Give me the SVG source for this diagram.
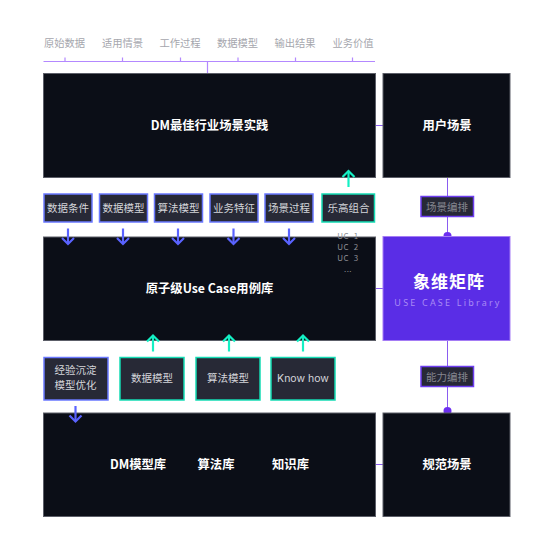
<svg xmlns="http://www.w3.org/2000/svg" width="554" height="554" viewBox="0 0 554 554">
<style>
text{font-family:"Noto Sans CJK SC","Noto Sans",sans-serif;text-anchor:middle}
.dark{fill:#0b0e17;stroke:#5c5e68;stroke-width:1}
.title{fill:#fff;font-size:12.300px;font-weight:700}
.chip{fill:#272936;stroke-width:1.500}
.blue{stroke:#6a78ff}
.green{stroke:#14dcb4}
.chipt{fill:#d4d5da;font-size:10.500px}
.head{fill:#a5a6ad;font-size:10.300px}
.ln{stroke:#b388ff;stroke-width:1.200;fill:none}
.ln2{stroke:#8a5cf0;stroke-width:1;fill:none}
.ab{stroke:#5a63ff;stroke-width:2.200;fill:none}
.ag{stroke:#14f0c4;stroke-width:2.200;fill:none}
.tag{fill:#272936;stroke:#6d3df0;stroke-width:1.500}
.tagt{fill:#85868f;font-size:10.500px}
.uc{fill:#8e8f96;font-size:8px;letter-spacing:.5px;white-space:pre}
</style>
<defs>
<g id="down"><path class="ab" d="M0 -8V7"/><path class="ab" d="M-6 1.500L0 7.500L6 1.500"/></g>
<g id="up"><path class="ag" d="M0 8.500V-7"/><path class="ag" d="M-6 -1.500L0 -7.500L6 -1.500"/></g>
</defs>
<g id="connectors">
<path class="ln" d="M43.500 61.500H375M65 57.500V61.500M122.500 57.500V61.500M180.500 57.500V61.500M238 57.500V61.500M295.500 57.500V61.500M352.500 57.500V61.500M207.500 61.500V73"/>
<path class="ln2" d="M447.500 177V237M447.500 340V413M375 125.500H383M375 288.500H383M375 464.500H383"/>
<circle cx="447.500" cy="236" r="4" fill="#6d2ff0"/>
<circle cx="447.500" cy="411" r="4" fill="#6d2ff0"/>
</g>
<g id="head-labels">
<text class="head" x="64.500" y="47">原始数据</text>
<text class="head" x="122.500" y="47">适用情景</text>
<text class="head" x="180" y="47">工作过程</text>
<text class="head" x="237.500" y="47">数据模型</text>
<text class="head" x="295" y="47">输出结果</text>
<text class="head" x="353" y="47">业务价值</text>
</g>
<g id="best-practice"><rect class="dark" x="43.500" y="73.500" width="332" height="104"/><text class="title" x="209.500" y="130">DM最佳行业场景实践</text></g>
<g id="user-scene"><rect class="dark" x="383" y="73.500" width="127" height="104"/><text class="title" x="447" y="130">用户场景</text></g>
<g id="use-case-lib"><rect class="dark" x="43.500" y="237" width="332" height="103.500"/><text class="title" x="209.500" y="293">原子级Use Case用例库</text></g>
<g id="matrix"><rect x="383" y="236.500" width="127" height="104" fill="#5a2de6" stroke="#a57cf5" stroke-width="1"/>
<text x="449" y="288" fill="#fff" font-size="17" font-weight="700" letter-spacing="1">象维矩阵</text>
<text x="448" y="306" fill="#a98bf5" font-size="9" letter-spacing="2.200" style="font-family:'Noto Sans',sans-serif">USE CASE Library</text></g>
<g id="model-lib"><rect class="dark" x="43.500" y="413" width="332" height="103.500"/>
<text class="title" x="138" y="469">DM模型库</text><text class="title" x="216" y="469">算法库</text><text class="title" x="290.500" y="469">知识库</text></g>
<g id="norm-scene"><rect class="dark" x="383" y="413" width="127" height="103.500"/><text class="title" x="447" y="469">规范场景</text></g>
<g id="chip-1"><rect class="chip blue" x="44" y="194" width="48" height="28"/><text class="chipt" x="68" y="212">数据条件</text></g>
<g id="chip-2"><rect class="chip blue" x="99.500" y="194" width="48" height="28"/><text class="chipt" x="123.500" y="212">数据模型</text></g>
<g id="chip-3"><rect class="chip blue" x="154.500" y="194" width="48" height="28"/><text class="chipt" x="178.500" y="212">算法模型</text></g>
<g id="chip-4"><rect class="chip blue" x="210" y="194" width="48" height="28"/><text class="chipt" x="234" y="212">业务特征</text></g>
<g id="chip-5"><rect class="chip blue" x="265" y="194" width="48" height="28"/><text class="chipt" x="289" y="212">场景过程</text></g>
<g id="chip-6"><rect class="chip green" x="322" y="194" width="52.500" height="28"/><text class="chipt" x="348.500" y="212">乐高组合</text></g>
<g id="uc-list"><text class="uc" x="348" y="239">UC  1</text><text class="uc" x="348" y="250">UC  2</text><text class="uc" x="348" y="261">UC  3</text><text class="uc" x="348" y="272">...</text></g>
<g id="tag-1"><rect class="tag" x="421" y="196.500" width="52.500" height="20"/><text class="tagt" x="447" y="210.500">场景编排</text></g>
<g id="tag-2"><rect class="tag" x="421" y="366.500" width="52.500" height="20"/><text class="tagt" x="447" y="380.500">能力编排</text></g>
<g id="exp"><rect class="chip blue" x="44" y="357.500" width="64" height="42.500"/><text class="chipt" x="75.500" y="374">经验沉淀</text><text class="chipt" x="75.500" y="389">模型优化</text></g>
<g id="k-1"><rect class="chip green" x="120" y="357.500" width="64" height="42.500"/><text class="chipt" x="152" y="382">数据模型</text></g>
<g id="k-2"><rect class="chip green" x="196" y="357.500" width="64" height="42.500"/><text class="chipt" x="228" y="382">算法模型</text></g>
<g id="k-3"><rect class="chip green" x="271" y="357.500" width="64" height="42.500"/><text class="chipt" x="303" y="382" style="font-family:Inter,'Noto Sans',sans-serif">Know how</text></g>
<g id="arrows">
<use href="#down" x="68" y="236.500"/><use href="#down" x="123" y="236.500"/><use href="#down" x="178" y="236.500"/><use href="#down" x="233.500" y="236.500"/><use href="#down" x="289" y="236.500"/>
<use href="#up" x="348.500" y="178.500"/>
<use href="#up" x="153" y="343"/><use href="#up" x="229" y="343"/><use href="#up" x="303" y="343"/>
<use href="#down" x="75.500" y="414"/>
</g>
</svg>
